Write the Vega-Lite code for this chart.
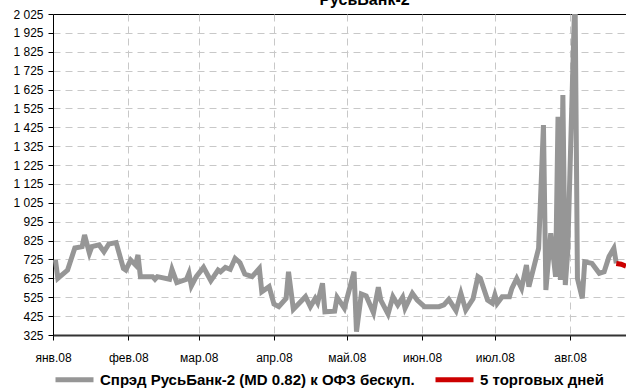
{
  "$schema": "https://vega.github.io/schema/vega-lite/v6.json",
  "width": 573,
  "height": 321,
  "autosize": {"type": "none"},
  "padding": {"left": 53, "top": 14, "right": 0, "bottom": 54},
  "background": "white",
  "title": {"text": "РусьБанк-2", "fontSize": 16, "font": "Liberation Sans", "fontWeight": "bold", "offset": 0, "dx": 25, "color": "black"},
  "config": {"view": {"stroke": "black", "strokeWidth": 1}, "font": "Liberation Sans"},
  "datasets": {
    "spread": [
      {"date": "2008-01-02", "value": 722, "series": "Спрэд РусьБанк-2 (MD 0.82) к ОФЗ бескуп."},
      {"date": "2008-01-03", "value": 625, "series": "Спрэд РусьБанк-2 (MD 0.82) к ОФЗ бескуп."},
      {"date": "2008-01-07", "value": 669, "series": "Спрэд РусьБанк-2 (MD 0.82) к ОФЗ бескуп."},
      {"date": "2008-01-10", "value": 786, "series": "Спрэд РусьБанк-2 (MD 0.82) к ОФЗ бескуп."},
      {"date": "2008-01-13", "value": 793, "series": "Спрэд РусьБанк-2 (MD 0.82) к ОФЗ бескуп."},
      {"date": "2008-01-14", "value": 855, "series": "Спрэд РусьБанк-2 (MD 0.82) к ОФЗ бескуп."},
      {"date": "2008-01-16", "value": 758, "series": "Спрэд РусьБанк-2 (MD 0.82) к ОФЗ бескуп."},
      {"date": "2008-01-17", "value": 793, "series": "Спрэд РусьБанк-2 (MD 0.82) к ОФЗ бескуп."},
      {"date": "2008-01-20", "value": 802, "series": "Спрэд РусьБанк-2 (MD 0.82) к ОФЗ бескуп."},
      {"date": "2008-01-22", "value": 766, "series": "Спрэд РусьБанк-2 (MD 0.82) к ОФЗ бескуп."},
      {"date": "2008-01-24", "value": 807, "series": "Спрэд РусьБанк-2 (MD 0.82) к ОФЗ бескуп."},
      {"date": "2008-01-27", "value": 814, "series": "Спрэд РусьБанк-2 (MD 0.82) к ОФЗ бескуп."},
      {"date": "2008-01-30", "value": 678, "series": "Спрэд РусьБанк-2 (MD 0.82) к ОФЗ бескуп."},
      {"date": "2008-01-31", "value": 669, "series": "Спрэд РусьБанк-2 (MD 0.82) к ОФЗ бескуп."},
      {"date": "2008-02-02", "value": 722, "series": "Спрэд РусьБанк-2 (MD 0.82) к ОФЗ бескуп."},
      {"date": "2008-02-04", "value": 696, "series": "Спрэд РусьБанк-2 (MD 0.82) к ОФЗ бескуп."},
      {"date": "2008-02-05", "value": 749, "series": "Спрэд РусьБанк-2 (MD 0.82) к ОФЗ бескуп."},
      {"date": "2008-02-06", "value": 634, "series": "Спрэд РусьБанк-2 (MD 0.82) к ОФЗ бескуп."},
      {"date": "2008-02-11", "value": 634, "series": "Спрэд РусьБанк-2 (MD 0.82) к ОФЗ бескуп."},
      {"date": "2008-02-12", "value": 620, "series": "Спрэд РусьБанк-2 (MD 0.82) к ОФЗ бескуп."},
      {"date": "2008-02-13", "value": 634, "series": "Спрэд РусьБанк-2 (MD 0.82) к ОФЗ бескуп."},
      {"date": "2008-02-18", "value": 620, "series": "Спрэд РусьБанк-2 (MD 0.82) к ОФЗ бескуп."},
      {"date": "2008-02-19", "value": 673, "series": "Спрэд РусьБанк-2 (MD 0.82) к ОФЗ бескуп."},
      {"date": "2008-02-21", "value": 602, "series": "Спрэд РусьБанк-2 (MD 0.82) к ОФЗ бескуп."},
      {"date": "2008-02-25", "value": 620, "series": "Спрэд РусьБанк-2 (MD 0.82) к ОФЗ бескуп."},
      {"date": "2008-02-26", "value": 652, "series": "Спрэд РусьБанк-2 (MD 0.82) к ОФЗ бескуп."},
      {"date": "2008-02-27", "value": 585, "series": "Спрэд РусьБанк-2 (MD 0.82) к ОФЗ бескуп."},
      {"date": "2008-02-29", "value": 634, "series": "Спрэд РусьБанк-2 (MD 0.82) к ОФЗ бескуп."},
      {"date": "2008-03-03", "value": 683, "series": "Спрэд РусьБанк-2 (MD 0.82) к ОФЗ бескуп."},
      {"date": "2008-03-06", "value": 612, "series": "Спрэд РусьБанк-2 (MD 0.82) к ОФЗ бескуп."},
      {"date": "2008-03-09", "value": 669, "series": "Спрэд РусьБанк-2 (MD 0.82) к ОФЗ бескуп."},
      {"date": "2008-03-10", "value": 660, "series": "Спрэд РусьБанк-2 (MD 0.82) к ОФЗ бескуп."},
      {"date": "2008-03-12", "value": 683, "series": "Спрэд РусьБанк-2 (MD 0.82) к ОФЗ бескуп."},
      {"date": "2008-03-14", "value": 673, "series": "Спрэд РусьБанк-2 (MD 0.82) к ОФЗ бескуп."},
      {"date": "2008-03-16", "value": 731, "series": "Спрэд РусьБанк-2 (MD 0.82) к ОФЗ бескуп."},
      {"date": "2008-03-18", "value": 708, "series": "Спрэд РусьБанк-2 (MD 0.82) к ОФЗ бескуп."},
      {"date": "2008-03-20", "value": 648, "series": "Спрэд РусьБанк-2 (MD 0.82) к ОФЗ бескуп."},
      {"date": "2008-03-23", "value": 634, "series": "Спрэд РусьБанк-2 (MD 0.82) к ОФЗ бескуп."},
      {"date": "2008-03-26", "value": 678, "series": "Спрэд РусьБанк-2 (MD 0.82) к ОФЗ бескуп."},
      {"date": "2008-03-27", "value": 554, "series": "Спрэд РусьБанк-2 (MD 0.82) к ОФЗ бескуп."},
      {"date": "2008-03-30", "value": 581, "series": "Спрэд РусьБанк-2 (MD 0.82) к ОФЗ бескуп."},
      {"date": "2008-04-01", "value": 489, "series": "Спрэд РусьБанк-2 (MD 0.82) к ОФЗ бескуп."},
      {"date": "2008-04-03", "value": 475, "series": "Спрэд РусьБанк-2 (MD 0.82) к ОФЗ бескуп."},
      {"date": "2008-04-06", "value": 519, "series": "Спрэд РусьБанк-2 (MD 0.82) к ОФЗ бескуп."},
      {"date": "2008-04-07", "value": 660, "series": "Спрэд РусьБанк-2 (MD 0.82) к ОФЗ бескуп."},
      {"date": "2008-04-09", "value": 461, "series": "Спрэд РусьБанк-2 (MD 0.82) к ОФЗ бескуп."},
      {"date": "2008-04-14", "value": 528, "series": "Спрэд РусьБанк-2 (MD 0.82) к ОФЗ бескуп."},
      {"date": "2008-04-16", "value": 475, "series": "Спрэд РусьБанк-2 (MD 0.82) к ОФЗ бескуп."},
      {"date": "2008-04-18", "value": 519, "series": "Спрэд РусьБанк-2 (MD 0.82) к ОФЗ бескуп."},
      {"date": "2008-04-19", "value": 496, "series": "Спрэд РусьБанк-2 (MD 0.82) к ОФЗ бескуп."},
      {"date": "2008-04-21", "value": 599, "series": "Спрэд РусьБанк-2 (MD 0.82) к ОФЗ бескуп."},
      {"date": "2008-04-22", "value": 448, "series": "Спрэд РусьБанк-2 (MD 0.82) к ОФЗ бескуп."},
      {"date": "2008-04-26", "value": 451, "series": "Спрэд РусьБанк-2 (MD 0.82) к ОФЗ бескуп."},
      {"date": "2008-04-27", "value": 525, "series": "Спрэд РусьБанк-2 (MD 0.82) к ОФЗ бескуп."},
      {"date": "2008-04-30", "value": 467, "series": "Спрэд РусьБанк-2 (MD 0.82) к ОФЗ бескуп."},
      {"date": "2008-05-04", "value": 660, "series": "Спрэд РусьБанк-2 (MD 0.82) к ОФЗ бескуп."},
      {"date": "2008-05-05", "value": 343, "series": "Спрэд РусьБанк-2 (MD 0.82) к ОФЗ бескуп."},
      {"date": "2008-05-07", "value": 542, "series": "Спрэд РусьБанк-2 (MD 0.82) к ОФЗ бескуп."},
      {"date": "2008-05-09", "value": 532, "series": "Спрэд РусьБанк-2 (MD 0.82) к ОФЗ бескуп."},
      {"date": "2008-05-12", "value": 443, "series": "Спрэд РусьБанк-2 (MD 0.82) к ОФЗ бескуп."},
      {"date": "2008-05-14", "value": 578, "series": "Спрэд РусьБанк-2 (MD 0.82) к ОФЗ бескуп."},
      {"date": "2008-05-15", "value": 510, "series": "Спрэд РусьБанк-2 (MD 0.82) к ОФЗ бескуп."},
      {"date": "2008-05-18", "value": 436, "series": "Спрэд РусьБанк-2 (MD 0.82) к ОФЗ бескуп."},
      {"date": "2008-05-20", "value": 528, "series": "Спрэд РусьБанк-2 (MD 0.82) к ОФЗ бескуп."},
      {"date": "2008-05-22", "value": 484, "series": "Спрэд РусьБанк-2 (MD 0.82) к ОФЗ бескуп."},
      {"date": "2008-05-24", "value": 525, "series": "Спрэд РусьБанк-2 (MD 0.82) к ОФЗ бескуп."},
      {"date": "2008-05-25", "value": 467, "series": "Спрэд РусьБанк-2 (MD 0.82) к ОФЗ бескуп."},
      {"date": "2008-05-28", "value": 546, "series": "Спрэд РусьБанк-2 (MD 0.82) к ОФЗ бескуп."},
      {"date": "2008-05-30", "value": 510, "series": "Спрэд РусьБанк-2 (MD 0.82) к ОФЗ бескуп."},
      {"date": "2008-06-02", "value": 475, "series": "Спрэд РусьБанк-2 (MD 0.82) к ОФЗ бескуп."},
      {"date": "2008-06-08", "value": 475, "series": "Спрэд РусьБанк-2 (MD 0.82) к ОФЗ бескуп."},
      {"date": "2008-06-10", "value": 485, "series": "Спрэд РусьБанк-2 (MD 0.82) к ОФЗ бескуп."},
      {"date": "2008-06-12", "value": 514, "series": "Спрэд РусьБанк-2 (MD 0.82) к ОФЗ бескуп."},
      {"date": "2008-06-15", "value": 454, "series": "Спрэд РусьБанк-2 (MD 0.82) к ОФЗ бескуп."},
      {"date": "2008-06-17", "value": 546, "series": "Спрэд РусьБанк-2 (MD 0.82) к ОФЗ бескуп."},
      {"date": "2008-06-19", "value": 457, "series": "Спрэд РусьБанк-2 (MD 0.82) к ОФЗ бескуп."},
      {"date": "2008-06-22", "value": 517, "series": "Спрэд РусьБанк-2 (MD 0.82) к ОФЗ бескуп."},
      {"date": "2008-06-24", "value": 634, "series": "Спрэд РусьБанк-2 (MD 0.82) к ОФЗ бескуп."},
      {"date": "2008-06-25", "value": 625, "series": "Спрэд РусьБанк-2 (MD 0.82) к ОФЗ бескуп."},
      {"date": "2008-06-28", "value": 510, "series": "Спрэд РусьБанк-2 (MD 0.82) к ОФЗ бескуп."},
      {"date": "2008-06-30", "value": 493, "series": "Спрэд РусьБанк-2 (MD 0.82) к ОФЗ бескуп."},
      {"date": "2008-07-01", "value": 537, "series": "Спрэд РусьБанк-2 (MD 0.82) к ОФЗ бескуп."},
      {"date": "2008-07-02", "value": 493, "series": "Спрэд РусьБанк-2 (MD 0.82) к ОФЗ бескуп."},
      {"date": "2008-07-04", "value": 528, "series": "Спрэд РусьБанк-2 (MD 0.82) к ОФЗ бескуп."},
      {"date": "2008-07-07", "value": 528, "series": "Спрэд РусьБанк-2 (MD 0.82) к ОФЗ бескуп."},
      {"date": "2008-07-08", "value": 572, "series": "Спрэд РусьБанк-2 (MD 0.82) к ОФЗ бескуп."},
      {"date": "2008-07-10", "value": 625, "series": "Спрэд РусьБанк-2 (MD 0.82) к ОФЗ бескуп."},
      {"date": "2008-07-12", "value": 572, "series": "Спрэд РусьБанк-2 (MD 0.82) к ОФЗ бескуп."},
      {"date": "2008-07-14", "value": 696, "series": "Спрэд РусьБанк-2 (MD 0.82) к ОФЗ бескуп."},
      {"date": "2008-07-15", "value": 581, "series": "Спрэд РусьБанк-2 (MD 0.82) к ОФЗ бескуп."},
      {"date": "2008-07-19", "value": 784, "series": "Спрэд РусьБанк-2 (MD 0.82) к ОФЗ бескуп."},
      {"date": "2008-07-21", "value": 1437, "series": "Спрэд РусьБанк-2 (MD 0.82) к ОФЗ бескуп."},
      {"date": "2008-07-22", "value": 563, "series": "Спрэд РусьБанк-2 (MD 0.82) к ОФЗ бескуп."},
      {"date": "2008-07-24", "value": 864, "series": "Спрэд РусьБанк-2 (MD 0.82) к ОФЗ бескуп."},
      {"date": "2008-07-26", "value": 634, "series": "Спрэд РусьБанк-2 (MD 0.82) к ОФЗ бескуп."},
      {"date": "2008-07-27", "value": 1481, "series": "Спрэд РусьБанк-2 (MD 0.82) к ОФЗ бескуп."},
      {"date": "2008-07-28", "value": 616, "series": "Спрэд РусьБанк-2 (MD 0.82) к ОФЗ бескуп."},
      {"date": "2008-07-29", "value": 1596, "series": "Спрэд РусьБанк-2 (MD 0.82) к ОФЗ бескуп."},
      {"date": "2008-07-30", "value": 590, "series": "Спрэд РусьБанк-2 (MD 0.82) к ОФЗ бескуп."},
      {"date": "2008-07-31", "value": 766, "series": "Спрэд РусьБанк-2 (MD 0.82) к ОФЗ бескуп."},
      {"date": "2008-08-03", "value": 2150, "series": "Спрэд РусьБанк-2 (MD 0.82) к ОФЗ бескуп."},
      {"date": "2008-08-04", "value": 625, "series": "Спрэд РусьБанк-2 (MD 0.82) к ОФЗ бескуп."},
      {"date": "2008-08-06", "value": 519, "series": "Спрэд РусьБанк-2 (MD 0.82) к ОФЗ бескуп."},
      {"date": "2008-08-07", "value": 713, "series": "Спрэд РусьБанк-2 (MD 0.82) к ОФЗ бескуп."},
      {"date": "2008-08-10", "value": 704, "series": "Спрэд РусьБанк-2 (MD 0.82) к ОФЗ бескуп."},
      {"date": "2008-08-13", "value": 652, "series": "Спрэд РусьБанк-2 (MD 0.82) к ОФЗ бескуп."},
      {"date": "2008-08-15", "value": 660, "series": "Спрэд РусьБанк-2 (MD 0.82) к ОФЗ бескуп."},
      {"date": "2008-08-17", "value": 740, "series": "Спрэд РусьБанк-2 (MD 0.82) к ОФЗ бескуп."},
      {"date": "2008-08-19", "value": 784, "series": "Спрэд РусьБанк-2 (MD 0.82) к ОФЗ бескуп."},
      {"date": "2008-08-20", "value": 704, "series": "Спрэд РусьБанк-2 (MD 0.82) к ОФЗ бескуп."},
      {"date": "2008-08-20", "value": 704, "series": "5 торговых дней"},
      {"date": "2008-08-22", "value": 700, "series": "5 торговых дней"},
      {"date": "2008-08-24", "value": 690, "series": "5 торговых дней"}
    ]
  },
  "data": {"name": "spread"},
  "mark": {"type": "line", "strokeWidth": 5, "clip": true},
  "encoding": {
    "x": {
      "field": "date",
      "type": "temporal",
      "scale": {"type": "utc", "domain": [{"year": 2008, "month": 1, "date": 1, "utc": true}, {"year": 2008, "month": 8, "date": 24, "utc": true}]},
      "axis": {
        "title": null,
        "values": [
          {"year": 2008, "month": 1, "date": 1, "utc": true},
          {"year": 2008, "month": 2, "date": 1, "utc": true},
          {"year": 2008, "month": 3, "date": 1, "utc": true},
          {"year": 2008, "month": 4, "date": 1, "utc": true},
          {"year": 2008, "month": 5, "date": 1, "utc": true},
          {"year": 2008, "month": 6, "date": 1, "utc": true},
          {"year": 2008, "month": 7, "date": 1, "utc": true},
          {"year": 2008, "month": 8, "date": 1, "utc": true}
        ],
        "labelExpr": "['янв','фев','мар','апр','май','июн','июл','авг','сен','окт','ноя','дек'][utcmonth(datum.value)] + '.08'",
        "labelFont": "Liberation Sans",
        "labelFontSize": 12,
        "labelColor": "black",
        "labelBaseline": "top",
        "labelPadding": 12,
        "labelFlush": false,
        "labelOverlap": false,
        "domainColor": "#333333",
        "domainWidth": 2,
        "tickColor": "black",
        "tickSize": 5,
        "grid": true,
        "gridColor": "#c8c8c8",
        "gridDash": [7, 5],
        "gridWidth": 1
      }
    },
    "y": {
      "field": "value",
      "type": "quantitative",
      "scale": {"domain": [325, 2025], "zero": false, "nice": false},
      "axis": {
        "title": null,
        "values": [325, 425, 525, 625, 725, 825, 925, 1025, 1125, 1225, 1325, 1425, 1525, 1625, 1725, 1825, 1925, 2025],
        "labelExpr": "replace(format(datum.value, ','), ',', ' ')",
        "labelFont": "Liberation Sans",
        "labelFontSize": 12,
        "labelColor": "black",
        "labelPadding": 5,
        "labelFlush": false,
        "labelOverlap": false,
        "domainColor": "black",
        "domainWidth": 1,
        "tickColor": "black",
        "tickSize": 5,
        "grid": true,
        "gridColor": "#c8c8c8",
        "gridDash": [7, 5],
        "gridWidth": 1,
        "gridOpacity": {"condition": {"test": "datum.value == 2025 || datum.value == 325", "value": 0}, "value": 1}
      }
    },
    "color": {
      "field": "series",
      "type": "nominal",
      "scale": {"domain": ["Спрэд РусьБанк-2 (MD 0.82) к ОФЗ бескуп.", "5 торговых дней"], "range": ["#969696", "#cc0000"]},
      "legend": {
        "title": null,
        "orient": "bottom",
        "direction": "horizontal",
        "offset": -5,
        "symbolType": "stroke",
        "symbolStrokeWidth": 5,
        "symbolSize": 1444,
        "labelFont": "Liberation Sans",
        "labelFontSize": 15,
        "labelFontWeight": "bold",
        "labelColor": "black",
        "labelOffset": 4,
        "labelLimit": 400,
        "columnPadding": 10
      }
    }
  }
}
